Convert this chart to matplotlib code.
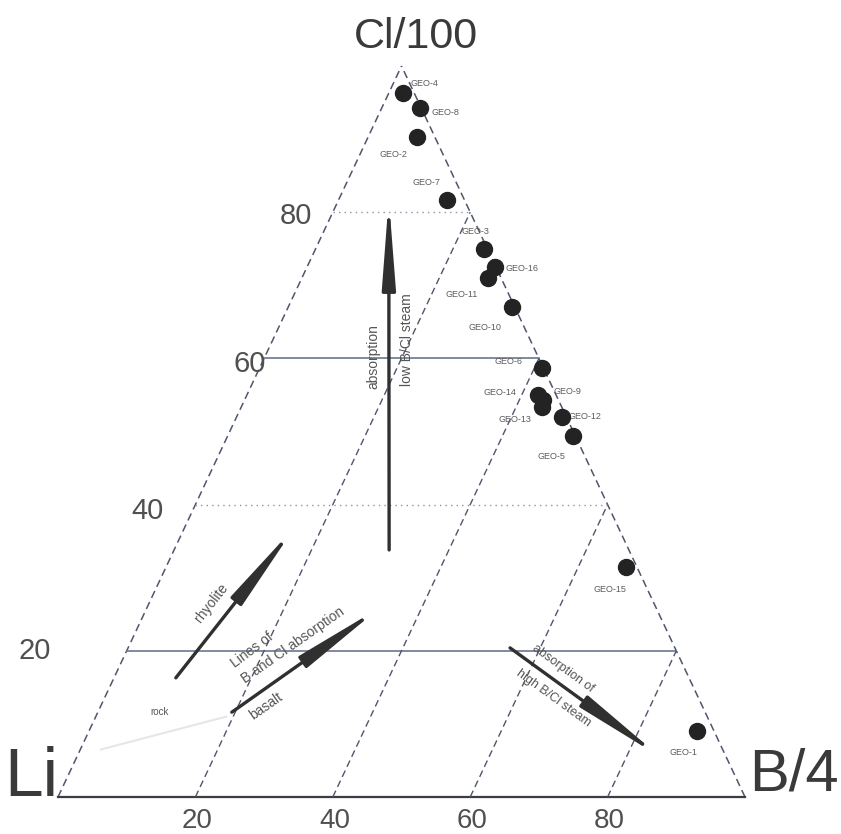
import matplotlib
matplotlib.use("Agg")
import matplotlib.pyplot as plt
from matplotlib.patches import FancyArrowPatch
from matplotlib import font_manager

# samples in ternary percent: B/4 and Cl/100 (Li is the rest)
sample_names = ["GEO-4", "GEO-8", "GEO-2", "GEO-7", "GEO-3", "GEO-16", "GEO-11", "GEO-10",
                "GEO-6", "GEO-14", "GEO-9", "GEO-13", "GEO-12", "GEO-5", "GEO-15", "GEO-1"]
b4_pct = [2.1, 5.5, 7.1, 15.8, 24.5, 27.4, 27.1, 32.6, 41.1, 42.4, 43.5, 43.8, 47.4, 50.3, 67.0, 88.5]
cl100_pct = [96.3, 94.3, 90.3, 81.7, 75.0, 72.5, 71.0, 67.0, 58.7, 55.0, 54.3, 53.4, 52.0, 49.4, 31.5, 9.0]

grid_values = [20, 40, 60, 80]
tick_labels = ["20", "40", "60", "80"]

# label offsets (pixels) from each dot
label_offsets = [(7, 10), (12, -5), (-37, -18), (-35, 17), (-22, 17), (10, -1), (-43, -17), (-44, -20),
                 (-47, 6), (-55, 2), (10, 9), (-44, -13), (6, 0), (-36, -21), (-33, -23), (-27, -21)]

# process arrows: (B, Cl) tail -> head
arrows = {
    "absorption": ((31.3, 33.8), (7.2, 81.9)),
    "rhyolite": ((9.0, 16.3), (16.0, 36.9)),
    "basalt": ((19.5, 11.6), (33.9, 25.9)),
    "steam": ((55.6, 20.4), (84.9, 5.5)),
}

names = {f.name for f in font_manager.fontManager.ttflist}
narrow = "Liberation Sans Narrow" if "Liberation Sans Narrow" in names else "Liberation Sans"
plt.rcParams['font.family'] = [narrow, 'DejaVu Sans']


def tern(b, c):
    return (b + c / 2.0) / 100.0, c / 100.0


W, H = 841, 834
fig = plt.figure(figsize=(W / 100, H / 100), dpi=100)
ax = fig.add_axes([58 / W, (H - 797) / H, 687 / W, 731 / H])
ax.set_xlim(0, 1)
ax.set_ylim(0, 1)
ax.axis('off')

edge_col = "#4f566c"
grid_col = "#6a7590"

# triangle frame
ax.plot([0, 0.5], [0, 1], color=edge_col, lw=1.1, ls=(0, (5, 3)), clip_on=False)
ax.plot([1, 0.5], [0, 1], color=edge_col, lw=1.1, ls=(0, (5, 3)), clip_on=False)
ax.plot([0, 1], [0, 0], color="#3c3c44", lw=1.6, clip_on=False)

# Cl lines (horizontal)
for v in grid_values:
    x0, y0 = tern(0, v)
    x1, y1 = tern(100 - v, v)
    if v in (20, 60):
        ax.plot([x0, x1], [y0, y1], color=grid_col, lw=1.2)
    else:
        ax.plot([x0, x1], [y0, y1], color="#8a93ab", lw=1.0, ls=(0, (1, 3)))

# B lines (parallel to Li-Cl edge)
for v in grid_values:
    x0, y0 = tern(v, 0)
    x1, y1 = tern(v, 100 - v)
    ax.plot([x0, x1], [y0, y1], color=edge_col, lw=1.0, ls=(0, (5, 3)))

# tick labels
for v, t in zip(grid_values, tick_labels):
    x, y = tern(v, 0)
    ax.annotate(t, (x, y), xytext=(2, -24), textcoords='offset pixels', ha='center', va='center',
                fontsize=20, color="#505050", annotation_clip=False)
left_dx = {20: -92, 40: -48, 60: -14, 80: -37}
left_dy = {20: 0, 40: -6, 60: -6, 80: -4}
for v, t in zip(grid_values, tick_labels):
    x, y = tern(0, v)
    ax.annotate(t, (x, y), xytext=(left_dx[v], left_dy[v]), textcoords='offset pixels', ha='center',
                va='center', fontsize=21, color="#505050", annotation_clip=False)

# vertex labels
fig.text(416 / W, 1 - 37 / H, "Cl/100", ha='center', va='center', fontsize=31, color="#3a3a3a")
fig.text(31 / W, 1 - 778 / H, "Li", ha='center', va='center', fontsize=50, color="#3a3a3a")
fig.text(794 / W, 1 - 775 / H, "B/4", ha='center', va='center', fontsize=43, color="#3a3a3a")

# samples
xs, ys = zip(*[tern(b, c) for b, c in zip(b4_pct, cl100_pct)])
ax.plot(xs, ys, 'o', color="#232323", ms=11.5, mec="#232323", zorder=5)
for name, x, y, off in zip(sample_names, xs, ys, label_offsets):
    ax.annotate(name, (x, y), xytext=off, textcoords='offset pixels', ha='left', va='center',
                fontsize=6.5, color="#5c5c5c")

# arrows
arrow_col = "#303030"
for key, (tail, head) in arrows.items():
    p0 = tern(*tail)
    p1 = tern(*head)
    arr = FancyArrowPatch(p0, p1, arrowstyle='-|>,head_length=2.6,head_width=0.2',
                          mutation_scale=20, lw=2.4, color=arrow_col, shrinkA=0, shrinkB=0, zorder=4)
    ax.add_patch(arr)

# faint rock line
rx0, ry0 = tern(3.0, 6.5)
rx1, ry1 = tern(19.0, 11.0)
ax.plot([rx0, rx1], [ry0, ry1], color="#e6e6e6", lw=1.5)

# annotations
txt = dict(color="#555555", ha='center', va='center')
fig.text(373 / W, 1 - 357 / H, "absorption", rotation=90, fontsize=10, **txt)
fig.text(407 / W, 1 - 340 / H, "low B/Cl steam", rotation=90, fontsize=10, **txt)
fig.text(211 / W, 1 - 603 / H, "rhyolite", rotation=52, fontsize=10, **txt)
fig.text(252 / W, 1 - 650 / H, "Lines of", rotation=37, fontsize=10, **txt)
fig.text(293 / W, 1 - 645 / H, "B and Cl absorption", rotation=35, fontsize=10, **txt)
fig.text(266 / W, 1 - 706 / H, "basalt", rotation=35, fontsize=10, **txt)
fig.text(160 / W, 1 - 712 / H, "rock", fontsize=7, **txt)
fig.text(563 / W, 1 - 669 / H, "absorption of", rotation=-36, fontsize=9, **txt)
fig.text(553 / W, 1 - 698 / H, "high B/Cl steam", rotation=-36, fontsize=9, **txt)

fig.savefig("out.png", dpi=100, facecolor="white")
